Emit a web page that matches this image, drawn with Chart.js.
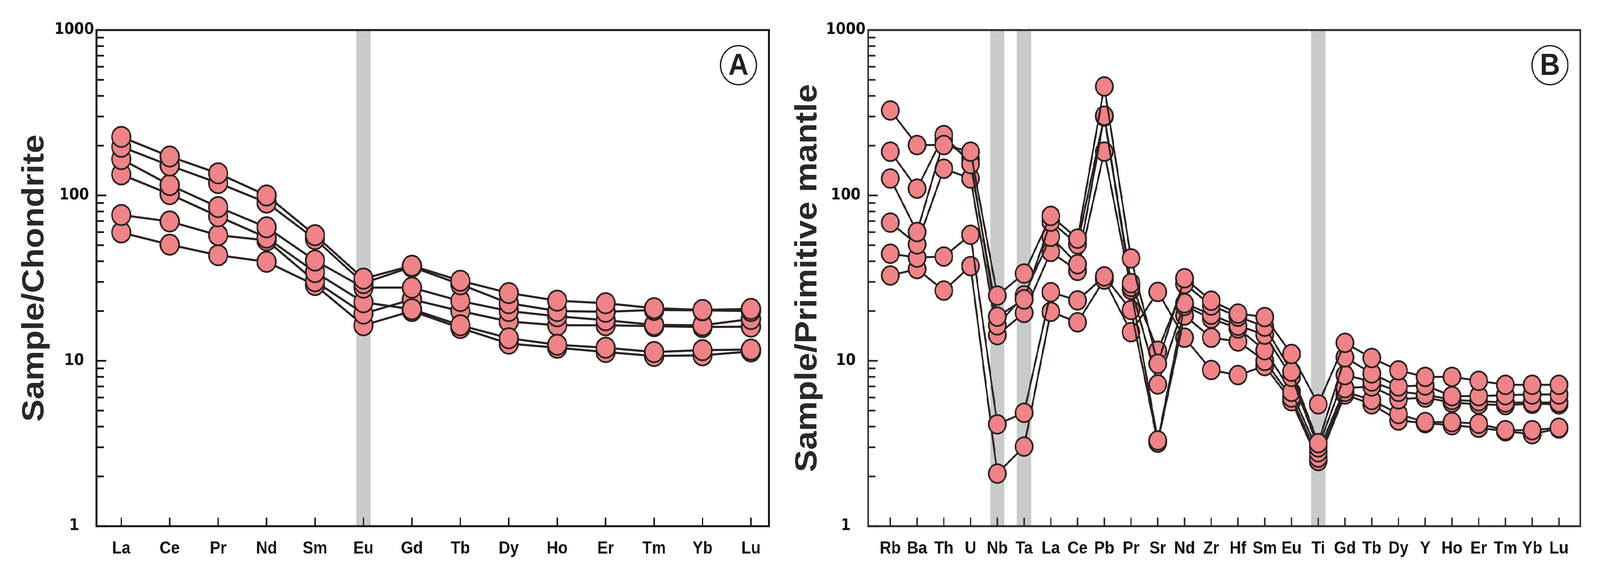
<!DOCTYPE html>
<html>
<head>
<meta charset="utf-8">
<script src="https://cdn.jsdelivr.net/npm/chart.js@4.4.1/dist/chart.umd.min.js"></script>
<style>
  html, body { margin: 0; padding: 0; width: 100%; height: 100%; background: #ffffff; overflow: hidden; }
  #viewport { position: fixed; left: 0; top: 0; right: 0; bottom: 0; overflow: hidden; background: #ffffff; }
  #stage { position: absolute; left: 0; top: 0; width: 4473px; height: 1473px; transform-origin: 0 0; background: #ffffff; }
  .panel { position: absolute; top: 0; height: 1473px; }
  #wrapA { left: 0; width: 2180px; }
  #wrapB { left: 2180px; width: 2293px; }
</style>
</head>
<body>
<div id="viewport">
  <div id="stage">
    <div class="panel" id="wrapA"><canvas id="chartA"></canvas></div>
    <div class="panel" id="wrapB"><canvas id="chartB"></canvas></div>
  </div>
</div>
<script>
// ---------- Panel A: chondrite-normalised REE ----------
const categoriesA = ['La','Ce','Pr','Nd','Sm','Eu','Gd','Tb','Dy','Ho','Er','Tm','Yb','Lu'];
const sampleA1 = [226, 172, 136, 100, 57.5, 31.4, 37.6, 30.5, 25.7, 23.1, 22.3, 20.8, 20.3, 20.6];
const sampleA2 = [197, 151.7, 118.8, 90.5, 54.5, 29.5, 37.0, 29.0, 22.3, 20.0, 19.8, 20.3, 20.2, 20.0];
const sampleA3 = [166, 115.6, 85, 64.2, 40.4, 27.7, 27.7, 23.0, 20.0, 18.6, 17.6, 16.5, 16.4, 17.9];
const sampleA4 = [134, 101.8, 74.8, 55.6, 34.4, 22.6, 20.5, 16.4, 13.7, 12.5, 12.0, 11.3, 11.6, 11.7];
const sampleA5 = [76.2, 69.6, 57.5, 53.5, 30.3, 19.3, 23.5, 20.0, 17.3, 16.4, 16.4, 16.2, 16.0, 16.1];
const sampleA6 = [59.7, 50.4, 43.5, 39.7, 28.7, 16.4, 20.0, 15.8, 12.7, 12.0, 11.3, 10.7, 10.8, 11.4];
const bandsA = ['Eu'];

// ---------- Panel B: primitive-mantle-normalised trace elements ----------
const categoriesB = ['Rb','Ba','Th','U','Nb','Ta','La','Ce','Pb','Pr','Sr','Nd','Zr','Hf','Sm','Eu','Ti','Gd','Tb','Dy','Y','Ho','Er','Tm','Yb','Lu'];
const sampleB1 = [326.5, 201.7, 201.7, 184, 24.8, 33.7, 75.2, 54.8, 456, 41.6, 9.6, 31.6, 23.1, 19.3, 18.4, 11.0, 5.46, 12.85, 10.4, 8.76, 8.0, 8.0, 7.57, 7.16, 7.16, 7.16];
const sampleB2 = [183.9, 110, 231.9, 155, 18.5, 23.5, 69.5, 50.6, 303.5, 29.5, 11.5, 29.2, 21.6, 18.5, 16.1, 8.6, 3.18, 10.5, 8.4, 7.0, 7.1, 6.12, 6.12, 6.2, 6.26, 6.26];
const sampleB3 = [126.6, 60.1, 215, 165, 16.4, 24.9, 56.3, 38.4, 300, 28, 7.2, 22.3, 19, 16.3, 14.4, 8.0, 3.0, 8.2, 7.5, 6.5, 6.26, 5.8, 5.7, 5.6, 5.59, 5.6];
const sampleB4 = [68.5, 50.6, 145.1, 126.6, 14.3, 19.5, 45.6, 35, 184, 26.9, 3.3, 21.5, 18, 15.7, 11.6, 6.5, 2.8, 6.84, 7.0, 5.85, 6.0, 5.59, 5.46, 5.4, 5.5, 5.46];
const sampleB5 = [44.4, 42.1, 42.7, 57.8, 4.13, 4.85, 26, 23.2, 32.4, 20.3, 3.2, 18.8, 13.8, 13.1, 10.0, 6.0, 2.6, 6.5, 5.8, 4.77, 4.26, 4.26, 4.17, 3.81, 3.81, 3.94];
const sampleB6 = [32.8, 35.9, 26.6, 37.4, 2.08, 3.03, 19.8, 17.1, 31, 14.9, 26.1, 13.8, 8.8, 8.2, 9.3, 5.7, 2.48, 6.26, 5.46, 4.36, 4.2, 4.08, 3.94, 3.75, 3.6, 3.9];
const bandsB = ['Nb','Ta','Ti'];

// ---------- shared axis data ----------
const yTickValues = [1, 10, 100, 1000];
const yTickLabels = ['1', '10', '100', '1000'];
const titleA = 'Sample/Chondrite';
const titleB = 'Sample/Primitive mantle';
const panelLabelA = 'A';
const panelLabelB = 'B';

const INK = '#2a2321';
const FILL = '#ee8388';

// map the 4473x1473 design onto the CSS viewport the browser actually provides
const vw = window.innerWidth || 4473, vh = window.innerHeight || 1473;
const SX = vw / 4473, SY = vh / 1473;
document.getElementById('stage').style.transform = 'scale(' + SX + ',' + SY + ')';
const DPR = (window.devicePixelRatio || 1) * Math.max(SX, SY);

function toPoints(arr) { return arr.map((v, i) => ({ x: i, y: v })); }

function makeDatasets(list, lineW, r) {
  return list.map((arr, k) => ({
    label: 'S' + (k + 1),
    data: toPoints(arr),
    borderColor: INK,
    borderWidth: lineW,
    backgroundColor: FILL,
    pointBackgroundColor: FILL,
    pointBorderColor: INK,
    pointBorderWidth: 4.5,
    pointRadius: r,
    pointHoverRadius: r,
    tension: 0,
    fill: false,
    clip: false
  }));
}

const decorPlugin = {
  id: 'decor',
  beforeDatasetsDraw(chart, args, opts) {
    const { ctx, chartArea: ca, scales } = chart;
    const x = scales.x;
    ctx.save();
    ctx.fillStyle = '#c9cbcb';
    opts.bands.forEach(name => {
      const px = x.getPixelForValue(opts.categories.indexOf(name));
      ctx.fillRect(px - 20, ca.top, 40, ca.bottom - ca.top);
    });
    ctx.restore();
  },
  afterDraw(chart, args, opts) {
    const { ctx, chartArea: ca, scales } = chart;
    const x = scales.x, y = scales.y;
    ctx.save();
    ctx.strokeStyle = opts.axisColor;
    ctx.lineCap = 'butt';
    // inward x ticks
    ctx.lineWidth = 4;
    opts.categories.forEach((c, i) => {
      const px = x.getPixelForValue(i);
      ctx.beginPath(); ctx.moveTo(px, ca.bottom); ctx.lineTo(px, ca.bottom - 22); ctx.stroke();
    });
    // inward y ticks, major and minor
    ctx.lineWidth = 4.5;
    [1, 10, 100].forEach(d => {
      for (let m = 1; m <= 9; m++) {
        const py = y.getPixelForValue(m * d);
        const len = m === 1 ? 27 : 20;
        ctx.beginPath(); ctx.moveTo(ca.left, py); ctx.lineTo(ca.left + len, py); ctx.stroke();
      }
    });
    // frame
    ctx.lineWidth = 5;
    ctx.strokeRect(ca.left, ca.top, ca.right - ca.left, ca.bottom - ca.top);
    // circled panel letter
    const cx = ca.right - 85, cy = ca.top + 90;
    ctx.lineWidth = 3.5;
    ctx.strokeStyle = '#231f20';
    ctx.beginPath(); ctx.arc(cx, cy, 50, 0, Math.PI * 2); ctx.stroke();
    ctx.fillStyle = '#231f20';
    ctx.font = 'bold 78px "Liberation Sans", Arial, sans-serif';
    ctx.textAlign = 'center'; ctx.textBaseline = 'middle';
    ctx.fillText(opts.label, cx, cy + 3);
    ctx.restore();
  }
};

function buildChart(id, cfg) {
  return new Chart(document.getElementById(id), {
    type: 'line',
    data: { datasets: makeDatasets(cfg.samples, cfg.lineW, cfg.r) },
    options: {
      responsive: true,
      maintainAspectRatio: false,
      devicePixelRatio: DPR,
      animation: false,
      events: [],
      layout: { padding: { left: 0, right: cfg.padRight, top: 77, bottom: 0 } },
      plugins: {
        legend: { display: false },
        tooltip: { enabled: false },
        decor: { bands: cfg.bands, categories: cfg.categories, label: cfg.panelLabel, axisColor: cfg.axisColor }
      },
      scales: {
        x: {
          type: 'linear',
          min: cfg.xMin,
          max: cfg.xMax,
          grid: { display: false, drawTicks: false },
          border: { display: false },
          afterBuildTicks: s => { s.ticks = cfg.categories.map((c, i) => ({ value: i })); },
          afterFit: s => { s.height = 125; },
          ticks: {
            autoSkip: false,
            maxRotation: 0,
            minRotation: 0,
            padding: 31,
            color: '#141414',
            font: { family: '"Liberation Sans", Arial, sans-serif', weight: 'bold', size: 44 },
            callback: v => cfg.categories[v]
          }
        },
        y: {
          type: 'logarithmic',
          min: 1,
          max: 1000,
          grid: { display: false, drawTicks: false },
          border: { display: false },
          afterBuildTicks: s => { s.ticks = yTickValues.map(v => ({ value: v, major: true })); },
          afterFit: s => { s.width = cfg.yWidth; },
          ticks: {
            crossAlign: 'center',
            padding: 7,
            color: '#141414',
            font: { family: '"DejaVu Sans", sans-serif', weight: 'bold', size: 40 },
            callback: (v, i) => yTickLabels[i]
          },
          title: {
            display: true,
            text: cfg.title,
            color: '#2b2727',
            font: { family: '"Liberation Sans", Arial, sans-serif', weight: 'bold', size: 86, lineHeight: 1 },
            padding: { top: cfg.titlePad, bottom: 0 }
          }
        }
      }
    },
    plugins: [decorPlugin]
  });
}

buildChart('chartA', {
  samples: [sampleA1, sampleA2, sampleA3, sampleA4, sampleA5, sampleA6],
  categories: categoriesA, bands: bandsA, panelLabel: panelLabelA, title: titleA,
  lineW: 5.5, r: 26, padRight: 27, xMin: -0.51, xMax: 13.37, yWidth: 270,
  titlePad: 54, axisColor: '#161414'
});

buildChart('chartB', {
  samples: [sampleB1, sampleB2, sampleB3, sampleB4, sampleB5, sampleB6],
  categories: categoriesB, bands: bandsB, panelLabel: panelLabelB, title: titleB,
  lineW: 5, r: 24, padRight: 55, xMin: -0.83, xMax: 25.8, yWidth: 247,
  titlePad: 35, axisColor: '#2e2a2a'
});
</script>
</body>
</html>
